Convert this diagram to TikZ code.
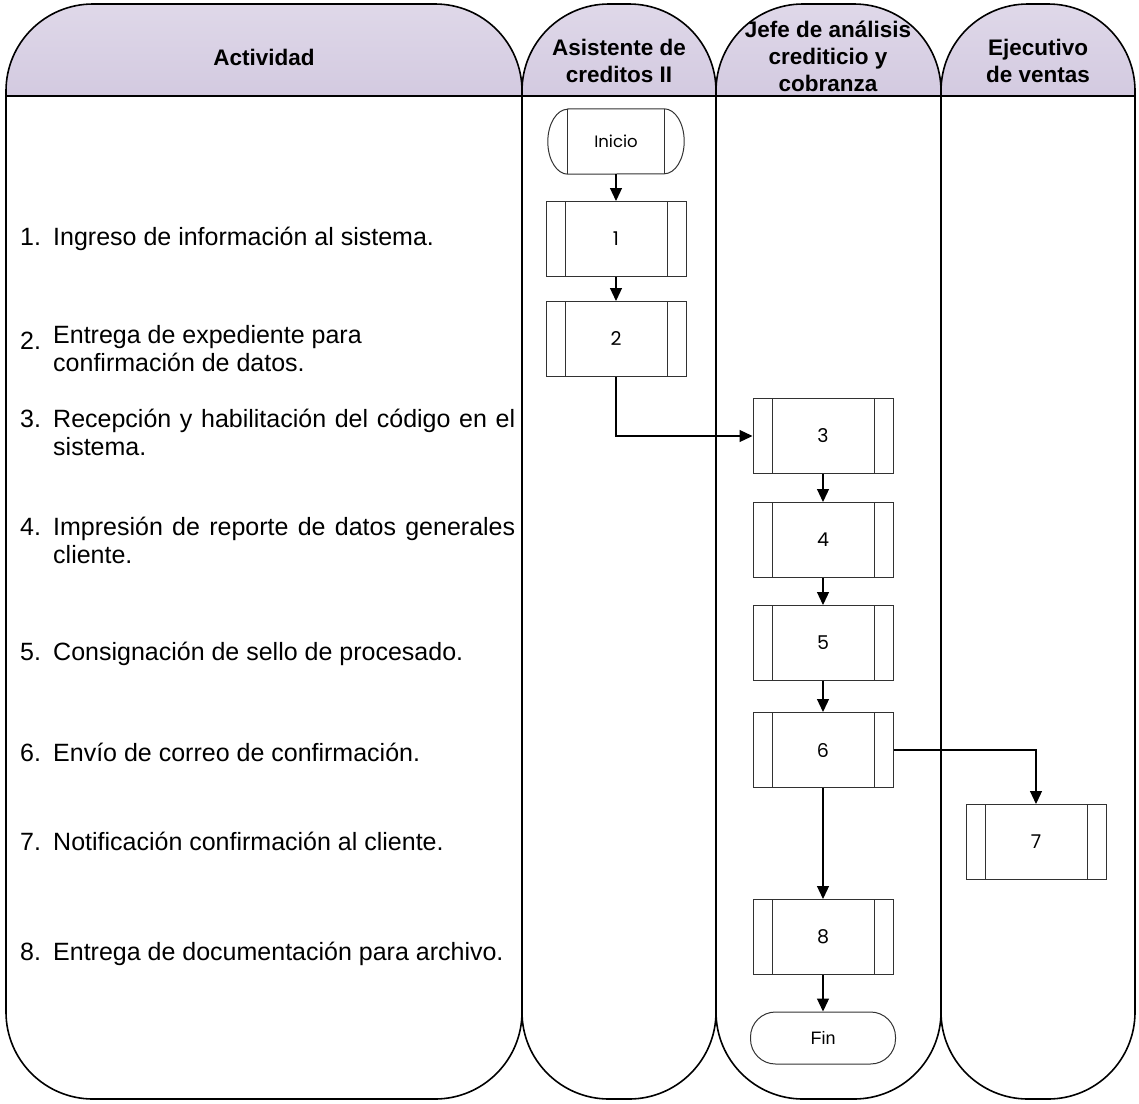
\documentclass[tikz,border=0pt]{standalone}
\usepackage{fontspec}
\setmainfont{Liberation Sans}
\newfontfamily\gothic{Poppins}
\usetikzlibrary{arrows.meta}
\definecolor{hdtop}{RGB}{223,216,233}
\definecolor{hdbot}{RGB}{211,202,224}
\definecolor{boxline}{RGB}{50,50,50}

\begin{document}
\begin{tikzpicture}[x=1pt,y=-1pt,
  lane/.style={draw=black, line width=1.6pt},
  headfill/.style={top color=hdtop, bottom color=hdbot},
  headtext/.style={font=\fontsize{22.5}{27}\selectfont\bfseries, align=center, inner sep=0pt},
  actnum/.style={font=\fontsize{25}{28}\selectfont, anchor=base west, inner sep=0pt},
  acttext/.style={font=\fontsize{25}{28}\selectfont, anchor=base west, inner sep=0pt},
  procbox/.style={draw=boxline, line width=1pt, minimum width=140pt, minimum height=75pt,
    inner sep=0pt, font=\gothic\fontsize{19}{22}\selectfont,
    path picture={
      \draw[boxline, line width=1pt]
        ([xshift=19pt]path picture bounding box.north west) --
        ([xshift=19pt]path picture bounding box.south west);
      \draw[boxline, line width=1pt]
        ([xshift=-19pt]path picture bounding box.north east) --
        ([xshift=-19pt]path picture bounding box.south east);}},
  terminal/.style={minimum width=96pt, minimum height=65pt, inner sep=0pt,
    font=\gothic\fontsize{16.5}{19}\selectfont},
  endbox/.style={draw=boxline, line width=1pt, rounded corners=25pt,
    minimum width=145pt, minimum height=52pt, inner sep=0pt,
    font=\fontsize{18}{21}\selectfont},
  flow/.style={draw=black, line width=1.2pt, -{Triangle[width=12pt,length=13pt]}},
]
\useasboundingbox (0,0) rectangle (1139,1103);

% swimlanes: header fill, outline, header rule
\foreach \xa/\xb in {6/522, 522/716, 716/941, 941/1135}{
  \begin{scope}
    \clip[rounded corners=87pt] (\xa,4) rectangle (\xb,1099);
    \shade[headfill] (\xa,4) rectangle (\xb,96);
  \end{scope}
  \draw[lane, rounded corners=87pt] (\xa,4) rectangle (\xb,1099);
  \draw[lane] (\xa,96) -- (\xb,96);
}

% lane titles
\node[headtext] (hact) at (264,57) {Actividad};
\node[headtext] (hasi) at (619,61) {Asistente de\\creditos II};
\node[headtext] (hjef) at (828,56) {Jefe de análisis\\crediticio y\\cobranza};
\node[headtext] (heje) at (1038,61) {Ejecutivo\\de ventas};

% activity list
\node[actnum] (n1) at (20,245) {1.};
\node[acttext] (t1) at (53,245) {Ingreso de información al sistema.};
\node[actnum] (n2) at (20,349) {2.};
\node[acttext] (t2a) at (53,343) {Entrega de expediente para};
\node[acttext] (t2b) at (53,371) {confirmación de datos.};
\node[actnum] (n3) at (20,427) {3.};
\node[acttext] (t3a) at (53,427) {\makebox[462pt][s]{Recepción y habilitación del código en el}};
\node[acttext] (t3b) at (53,455) {sistema.};
\node[actnum] (n4) at (20,535) {4.};
\node[acttext] (t4a) at (53,535) {\makebox[462pt][s]{Impresión de reporte de datos generales}};
\node[acttext] (t4b) at (53,563) {cliente.};
\node[actnum] (n5) at (20,660) {5.};
\node[acttext] (t5) at (53,660) {Consignación de sello de procesado.};
\node[actnum] (n6) at (20,761) {6.};
\node[acttext] (t6) at (53,761) {Envío de correo de confirmación.};
\node[actnum] (n7) at (20,850) {7.};
\node[acttext] (t7) at (53,850) {Notificación confirmación al cliente.};
\node[actnum] (n8) at (20,960) {8.};
\node[acttext] (t8) at (53,960) {Entrega de documentación para archivo.};

% flow symbols
\node[terminal] (ini) at (616,141.5) {Inicio};
\draw[boxline, line width=1pt]
  (ini.north west) -- (ini.north east)
  arc[start angle=90, end angle=-90, x radius=20pt, y radius=32.5pt]
  -- (ini.south west)
  arc[start angle=270, end angle=90, x radius=20pt, y radius=32.5pt] -- cycle;
\draw[boxline, line width=1pt] (ini.north west) -- (ini.south west);
\draw[boxline, line width=1pt] (ini.north east) -- (ini.south east);

\node[procbox] (b1) at (616,239) {1};
\node[procbox] (b2) at (616,339) {2};
\node[procbox] (b3) at (823,436) {3};
\node[procbox] (b4) at (823,540) {4};
\node[procbox] (b5) at (823,643) {5};
\node[procbox] (b6) at (823,750) {6};
\node[procbox] (b7) at (1036,842) {7};
\node[procbox] (b8) at (823,937) {8};
\node[endbox] (fin) at (823,1038) {Fin};

% connectors
\draw[flow] (ini) -- (b1);
\draw[flow] (b1) -- (b2);
\draw[flow] (b2.south) |- (b3.west);
\draw[flow] (b3) -- (b4);
\draw[flow] (b4) -- (b5);
\draw[flow] (b5) -- (b6);
\draw[flow] (b6.east) -| (b7.north);
\draw[flow] (b6) -- (b8);
\draw[flow] (b8) -- (fin);
\end{tikzpicture}
\end{document}
